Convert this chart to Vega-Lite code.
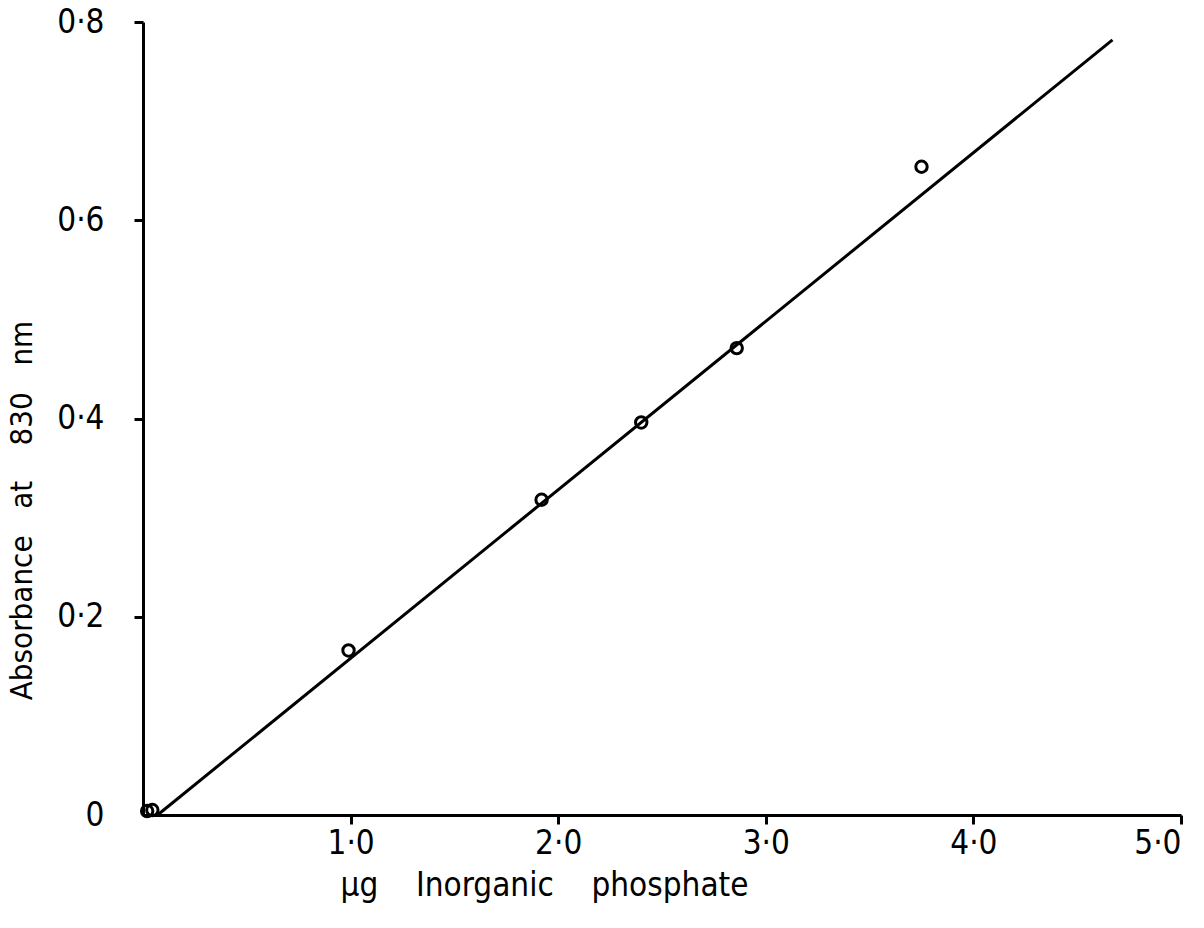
{
  "$schema": "https://vega.github.io/schema/vega-lite/v6.json",
  "width": 1038,
  "height": 793,
  "autosize": {"type": "none"},
  "padding": {"left": 143, "top": 22, "right": 23, "bottom": 113},
  "background": "white",
  "config": {
    "view": {"stroke": null},
    "font": "DejaVu Sans",
    "axis": {
      "grid": false,
      "domainColor": "black",
      "domainWidth": 3,
      "tickColor": "black",
      "tickWidth": 3,
      "tickSize": 9,
      "labelColor": "black",
      "titleColor": "black",
      "labelFont": "DejaVu Sans Condensed, DejaVu Sans",
      "titleFont": "DejaVu Sans Condensed, DejaVu Sans",
      "labelFontSize": 33,
      "titleFontSize": 31,
      "titleFontWeight": "normal"
    }
  },
  "datasets": {
    "points": [
      {"x": 0.02, "y": 0.004},
      {"x": 0.045, "y": 0.005},
      {"x": 0.99, "y": 0.166},
      {"x": 1.92, "y": 0.318},
      {"x": 2.40, "y": 0.396},
      {"x": 2.86, "y": 0.471},
      {"x": 3.75, "y": 0.654}
    ],
    "fit": [
      {"x": 0.07, "y": 0.0},
      {"x": 4.67, "y": 0.782}
    ]
  },
  "layer": [
    {
      "data": {"name": "fit"},
      "mark": {"type": "line", "color": "black", "strokeWidth": 3, "clip": false},
      "encoding": {
        "x": {
          "field": "x", "type": "quantitative",
          "scale": {"domain": [0, 5], "nice": false, "zero": false},
          "axis": {
            "values": [1, 2, 3, 4, 5],
            "labelExpr": "replace(format(datum.value, '.1f'), '.', '·')",
            "labelPadding": 3,
            "title": "µg\u00a0\u00a0\u00a0\u00a0Inorganic\u00a0\u00a0\u00a0\u00a0phosphate",
            "titleFontSize": 33,
            "titleX": 197,
            "titleY": 70,
            "titleAlign": "left",
            "titleBaseline": "middle",
            "titleAnchor": null
          }
        },
        "y": {
          "field": "y", "type": "quantitative",
          "scale": {"domain": [0, 0.8], "nice": false, "zero": false},
          "axis": {
            "values": [0, 0.2, 0.4, 0.6, 0.8],
            "labelExpr": "datum.value == 0 ? '0' : replace(format(datum.value, '.1f'), '.', '·')",
            "labelPadding": 30,
            "tickOpacity": {"condition": {"test": "datum.value == 0", "value": 0}, "value": 1},
            "title": "Absorbance\u00a0\u00a0\u00a0at\u00a0\u00a0\u00a0\u00a0830\u00a0\u00a0\u00a0nm",
            "titleAngle": -90,
            "titleX": -121,
            "titleY": 488,
            "titleAlign": "center",
            "titleBaseline": "middle",
            "titleAnchor": null
          }
        }
      }
    },
    {
      "data": {"name": "points"},
      "mark": {"type": "point", "shape": "circle", "filled": false, "color": "black", "strokeWidth": 3, "size": 130, "opacity": 1, "clip": false},
      "encoding": {
        "x": {"field": "x", "type": "quantitative"},
        "y": {"field": "y", "type": "quantitative"}
      }
    }
  ]
}
